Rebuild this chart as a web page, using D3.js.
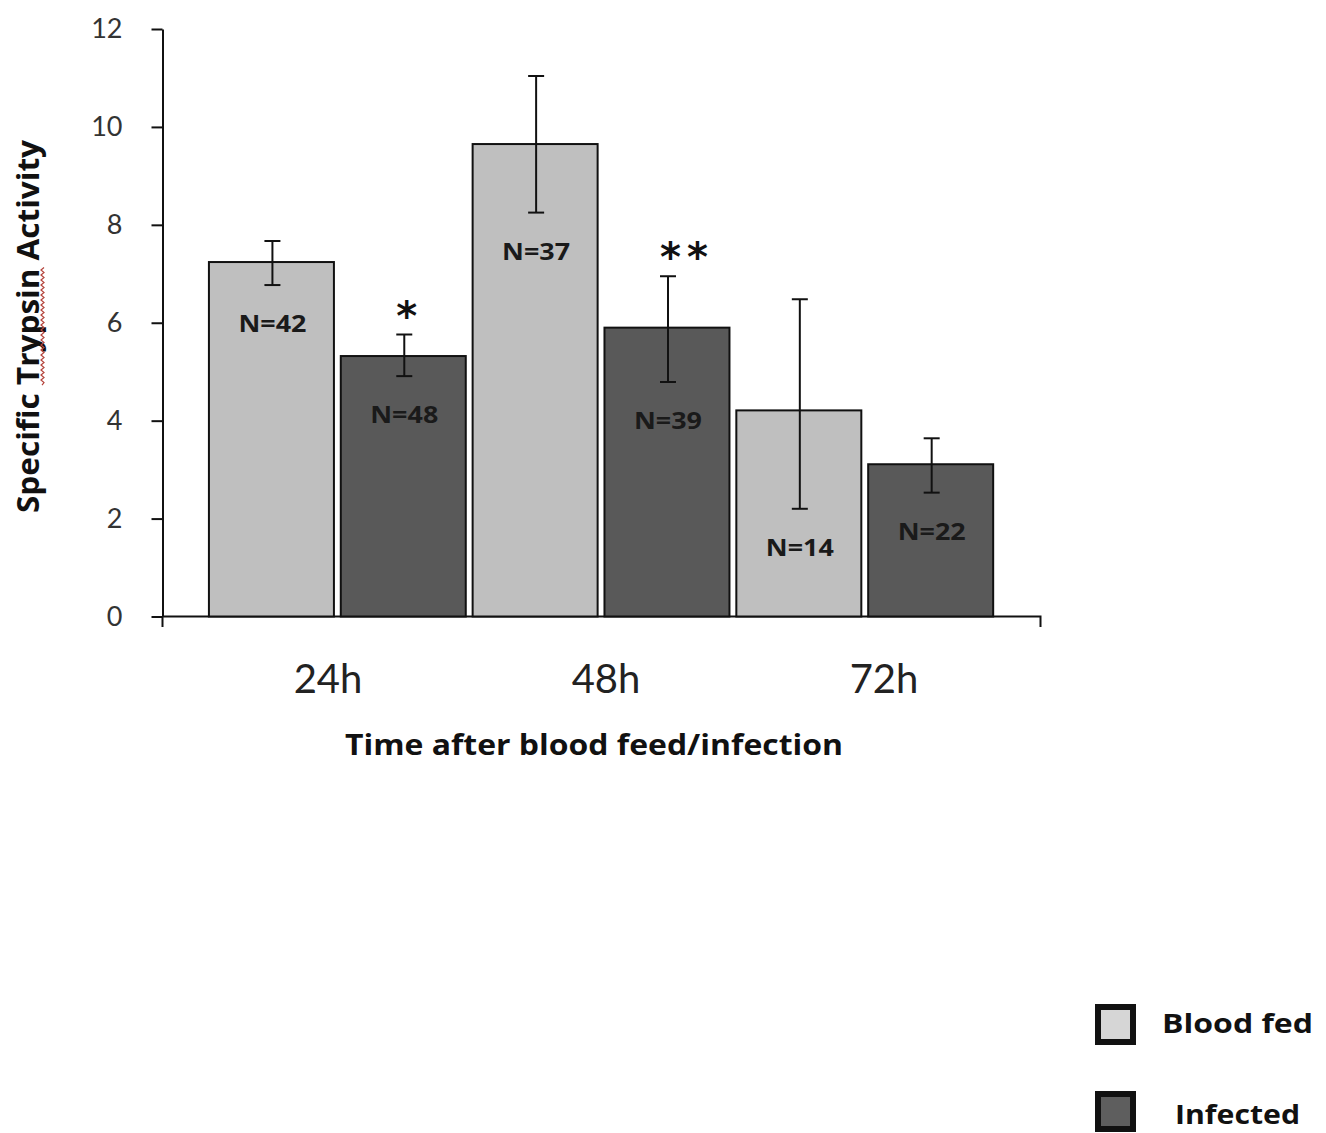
<!DOCTYPE html>
<html lang="en">
<head>
    <meta charset="UTF-8">
    <title>Specific Trypsin Activity</title>
    <script src="https://d3js.org/d3.v7.min.js"></script>
    <style>
        body { margin: 0; background: #fff; }
        text { font-family: "Open Sans", Lato, sans-serif; }
    </style>
</head>
<body>
    <script>
        // data
        const categories = ["24h", "48h", "72h"];
        const series = ["Blood fed", "Infected"];
        const bloodFed = [7.24, 9.65, 4.21];
        const bloodFedHi = [7.67, 11.04, 6.48];
        const bloodFedLo = [6.77, 8.25, 2.20];
        const infected = [5.32, 5.90, 3.11];
        const infectedHi = [5.76, 6.95, 3.64];
        const infectedLo = [4.91, 4.79, 2.53];
        const bloodFedN = ["N=42", "N=37", "N=14"];
        const infectedN = ["N=48", "N=39", "N=22"];
        const infectedStars = ["*", "**", ""];
        const yTicks = [0, 2, 4, 6, 8, 10, 12];

        const width = 1326, height = 1133;
        const colors = { "Blood fed": "#bfbfbf", "Infected": "#595959" };
        const legendColors = { "Blood fed": "#d6d6d6", "Infected": "#5e5e5e" };

        const rows = [];
        categories.forEach((c, i) => {
            rows.push({ cat: c, key: "Blood fed", value: bloodFed[i], hi: bloodFedHi[i], lo: bloodFedLo[i], n: bloodFedN[i], star: "" });
            rows.push({ cat: c, key: "Infected", value: infected[i], hi: infectedHi[i], lo: infectedLo[i], n: infectedN[i], star: infectedStars[i] });
        });

        const svg = d3.select("body").append("svg")
            .attr("width", width)
            .attr("height", height);

        const y = d3.scaleLinear().domain([0, 12]).range([616.5, 29]);
        const x0 = d3.scaleBand().domain(categories).range([205.5, 996.6]);
        const x1 = d3.scaleBand().domain(series).range([0, x0.bandwidth()])
            .paddingInner(0.052).paddingOuter(0.026);
        // the category labels sit a little off the group centres
        const xLabel = d3.scalePoint().domain(categories).range([328, 884]);

        // y axis
        const yAxis = svg.append("g")
            .attr("transform", "translate(162.5,0)")
            .call(d3.axisLeft(y).tickValues(yTicks).tickSize(11).tickSizeOuter(0).tickPadding(29));
        yAxis.select(".domain").attr("stroke", "#111").attr("stroke-width", 2);
        yAxis.selectAll(".tick line").attr("stroke", "#111").attr("stroke-width", 2);
        yAxis.selectAll(".tick text")
            .attr("fill", "#333")
            .style("font-size", "27px")
            .style("font-family", "Lato, sans-serif");

        // x axis line with end ticks
        svg.append("path")
            .attr("d", `M162.5,616.5H1040.5V627`)
            .attr("fill", "none").attr("stroke", "#111").attr("stroke-width", 2);
        svg.append("line")
            .attr("x1", 162.5).attr("x2", 162.5).attr("y1", 616.5).attr("y2", 627)
            .attr("stroke", "#111").attr("stroke-width", 2);

        const groups = svg.append("g").selectAll("g")
            .data(rows)
            .enter().append("g")
            .attr("transform", d => `translate(${x0(d.cat) + x1(d.key)},0)`);

        groups.append("rect")
            .attr("y", d => y(d.value))
            .attr("width", x1.bandwidth())
            .attr("height", d => y(0) - y(d.value))
            .attr("fill", d => colors[d.key])
            .attr("stroke", "#111")
            .attr("stroke-width", 2);

        const cx = x1.bandwidth() / 2 + 1;
        // error bars
        groups.append("line")
            .attr("x1", cx).attr("x2", cx)
            .attr("y1", d => y(d.hi))
            .attr("y2", d => y(d.lo))
            .attr("stroke", "#111").attr("stroke-width", 2);
        groups.append("line")
            .attr("x1", cx - 8).attr("x2", cx + 8)
            .attr("y1", d => y(d.hi)).attr("y2", d => y(d.hi))
            .attr("stroke", "#111").attr("stroke-width", 2);
        groups.append("line")
            .attr("x1", cx - 8).attr("x2", cx + 8)
            .attr("y1", d => y(d.lo)).attr("y2", d => y(d.lo))
            .attr("stroke", "#111").attr("stroke-width", 2);

        // N labels
        groups.append("text")
            .attr("x", cx)
            .attr("y", d => y(d.lo) + 47)
            .attr("text-anchor", "middle")
            .attr("fill", "#1a1a1a")
            .attr("textLength", 68)
            .attr("lengthAdjust", "spacingAndGlyphs")
            .style("font-size", "23px")
            .style("font-weight", "bold")
            .text(d => d.n);

        // significance stars
        groups.filter(d => d.star).append("text")
            .attr("x", cx - 8)
            .attr("y", d => y(d.hi) - 5)
            .attr("fill", "#111")
            .style("font-family", "'DejaVu Sans', sans-serif")
            .style("font-size", "40px")
            .style("font-weight", "bold")
            .style("letter-spacing", "6px")
            .text(d => d.star);

        // category labels
        svg.append("g").selectAll("text")
            .data(categories)
            .enter().append("text")
            .attr("x", d => xLabel(d))
            .attr("y", 693)
            .attr("text-anchor", "middle")
            .attr("fill", "#222")
            .style("font-family", "Lato, sans-serif")
            .style("font-size", "40px")
            .text(d => d);

        svg.append("text")
            .attr("x", 594)
            .attr("y", 755)
            .attr("text-anchor", "middle")
            .attr("fill", "#111")
            .attr("textLength", 498)
            .attr("lengthAdjust", "spacingAndGlyphs")
            .style("font-size", "29px")
            .style("font-weight", "bold")
            .text("Time after blood feed/infection");

        // y title
        const yTitleText = "Specific Trypsin Activity";
        const yTitleLen = 373, yTitleMid = 326.5;
        const yTitle = svg.append("text")
            .attr("transform", `translate(39,${yTitleMid}) rotate(-90)`)
            .attr("text-anchor", "middle")
            .attr("fill", "#111")
            .style("font-size", "30px")
            .style("font-weight", "bold")
            .text(yTitleText);
        const node = yTitle.node();
        const natural = node.getComputedTextLength();
        const k0 = yTitleText.indexOf("Trypsin");
        const s0 = node.getSubStringLength(0, k0) / natural * yTitleLen;
        const s1 = node.getSubStringLength(0, k0 + 7) / natural * yTitleLen;
        yTitle.attr("textLength", yTitleLen).attr("lengthAdjust", "spacingAndGlyphs");

        // spell-check squiggle under "Trypsin"
        const yStart = yTitleMid + yTitleLen / 2;
        const sq = d3.path();
        sq.moveTo(42, yStart - s0);
        for (let yy = yStart - s0, k = 0; yy > yStart - s1; yy -= 2.5, k++) sq.lineTo(k % 2 ? 41 : 44, yy - 2.5);
        svg.append("path").attr("d", sq.toString())
            .attr("fill", "none").attr("stroke", "#b5443c").attr("stroke-width", 1.2);

        // legend
        const legend = svg.append("g").selectAll("g")
            .data(series)
            .enter().append("g")
            .attr("transform", (d, i) => `translate(1098,${1007 + i * 87})`);
        legend.append("rect")
            .attr("width", 35).attr("height", 35)
            .attr("fill", d => legendColors[d])
            .attr("stroke", "#111")
            .attr("stroke-width", 6);
        legend.append("text")
            .attr("x", (d, i) => i ? 77 : 64)
            .attr("y", (d, i) => i ? 30 : 26)
            .attr("fill", "#111")
            .attr("textLength", (d, i) => i ? 125 : 151)
            .attr("lengthAdjust", "spacingAndGlyphs")
            .style("font-size", "27px")
            .style("font-weight", "bold")
            .text(d => d);
    </script>
</body>
</html>
